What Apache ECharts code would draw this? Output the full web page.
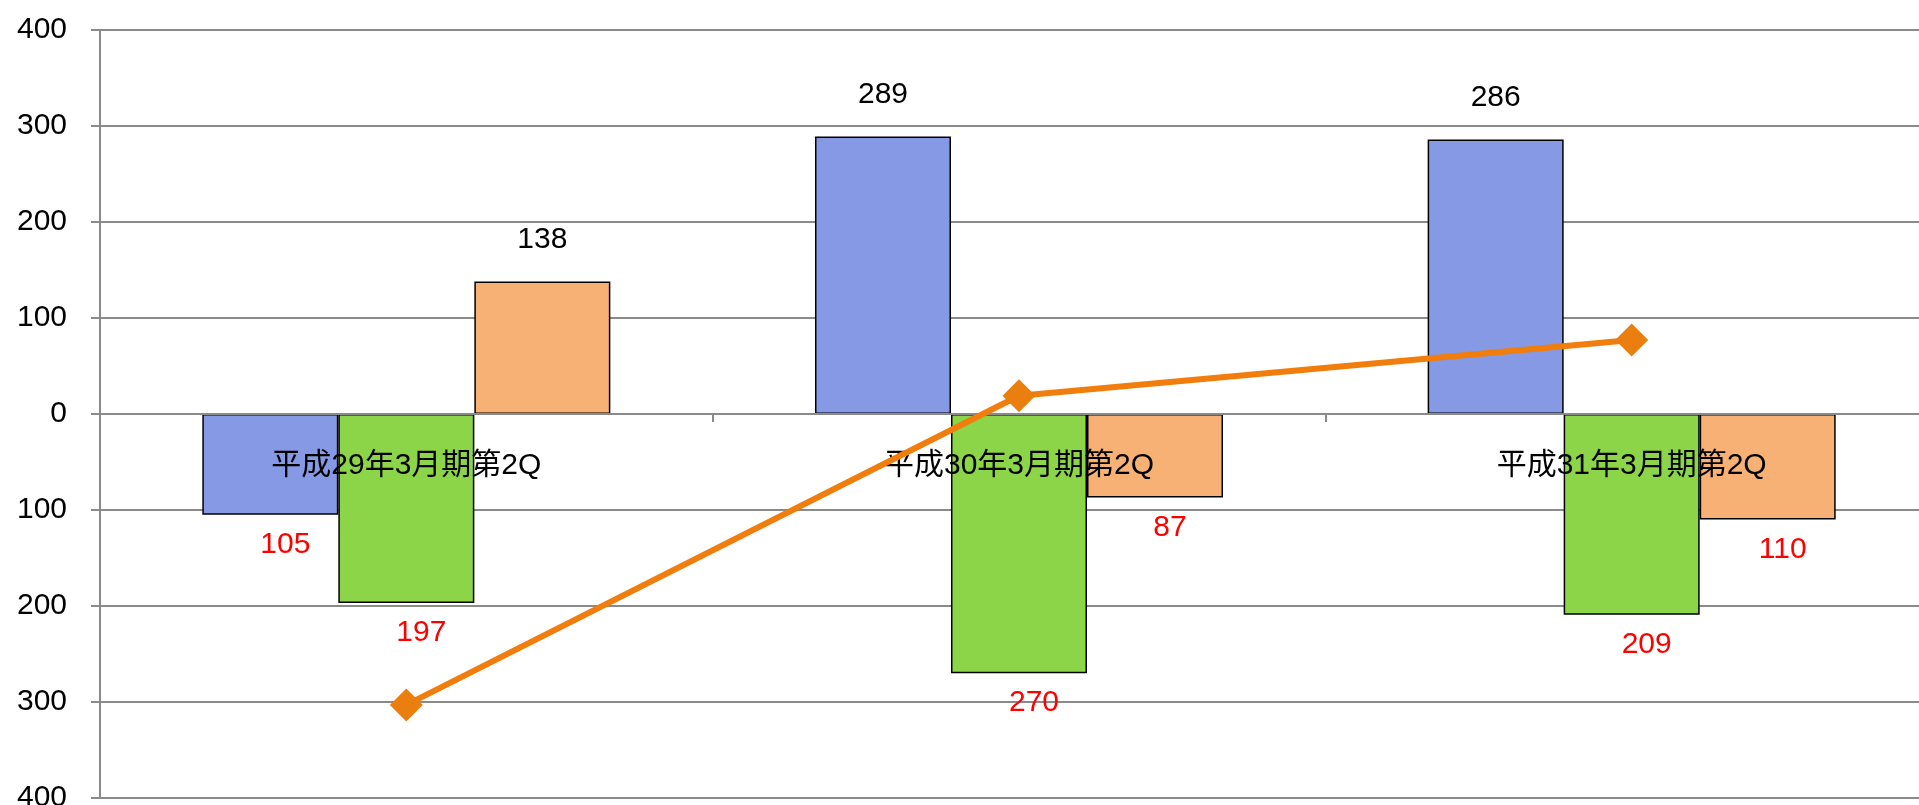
<!DOCTYPE html>
<html>
<head>
<meta charset="utf-8">
<script src="https://cdn.jsdelivr.net/npm/echarts@6/dist/echarts.min.js"></script>
<style>
html,body{margin:0;padding:0;background:#fff;}
#chart{width:1919px;height:805px;}
</style>
</head>
<body>
<div id="chart"></div>
<script>
var categories = ['平成29年3月期第2Q', '平成30年3月期第2Q', '平成31年3月期第2Q'];
var seriesA = [-105, 289, 286];
var seriesB = [-197, -270, -209];
var seriesC = [138, -87, -110];
var lineValues = [-303, 19, 77];
var yTicks = { min: -400, max: 400, interval: 100 };

var GRID_TOP = 30, GRID_HEIGHT = 768;
// distance from the grid bottom up to the value-zero line
var zeroOffset = GRID_HEIGHT * (0 - yTicks.min) / (yTicks.max - yTicks.min);

var chart = echarts.init(document.getElementById('chart'));

function barData(arr) {
  return arr.map(function (v) {
    return {
      value: v,
      label: v < 0
        ? { color: '#ff0000', distance: 15, offset: [15, 0] }
        : { color: '#000000', distance: 27 }
    };
  });
}

var barLabel = {
  show: true,
  position: 'outside',
  fontFamily: 'Liberation Sans',
  fontSize: 30,
  formatter: function (p) { return Math.abs(p.value); }
};

function barSeries(name, arr, color) {
  return {
    name: name,
    type: 'bar',
    data: barData(arr),
    barGap: '0%',
    barCategoryGap: '33.4%',
    itemStyle: { color: color, borderColor: '#000', borderWidth: 1.5 },
    label: barLabel,
    z: 2
  };
}

chart.setOption({
  animation: false,
  backgroundColor: '#fff',
  grid: { left: 100, top: GRID_TOP, width: 1838, height: GRID_HEIGHT, containLabel: false, outerBoundsMode: 'none' },
  xAxis: {
    type: 'category',
    data: categories,
    position: 'bottom',
    offset: -zeroOffset,
    z: 10,
    axisLine: { onZero: false, lineStyle: { color: '#8a8a8a', width: 2 } },
    axisTick: { show: true, length: 8, lineStyle: { color: '#8a8a8a', width: 2 } },
    axisLabel: {
      margin: 37,
      fontSize: 30,
      color: '#000',
      fontFamily: '"Liberation Sans", "Noto Sans CJK JP"'
    },
    splitLine: { show: false }
  },
  yAxis: {
    type: 'value',
    min: yTicks.min,
    max: yTicks.max,
    interval: yTicks.interval,
    axisLine: { show: true, lineStyle: { color: '#8a8a8a', width: 2 } },
    axisTick: { show: true, length: 9, lineStyle: { color: '#8a8a8a', width: 2 } },
    axisLabel: {
      margin: 33,
      fontSize: 30,
      color: '#000',
      fontFamily: 'Liberation Sans',
      padding: [0, 0, 8, 0],
      formatter: function (v) { return Math.abs(v); }
    },
    splitLine: { show: true, lineStyle: { color: '#8a8a8a', width: 2 } }
  },
  series: [
    barSeries('A', seriesA, '#8599e4'),
    barSeries('B', seriesB, '#8dd548'),
    barSeries('C', seriesC, '#f7b174'),
    {
      name: 'line',
      type: 'line',
      data: lineValues,
      symbol: 'diamond',
      symbolSize: 33,
      itemStyle: { color: '#ea7e0f' },
      lineStyle: { color: '#f07d0c', width: 6 },
      z: 20
    }
  ]
});
</script>
</body>
</html>
